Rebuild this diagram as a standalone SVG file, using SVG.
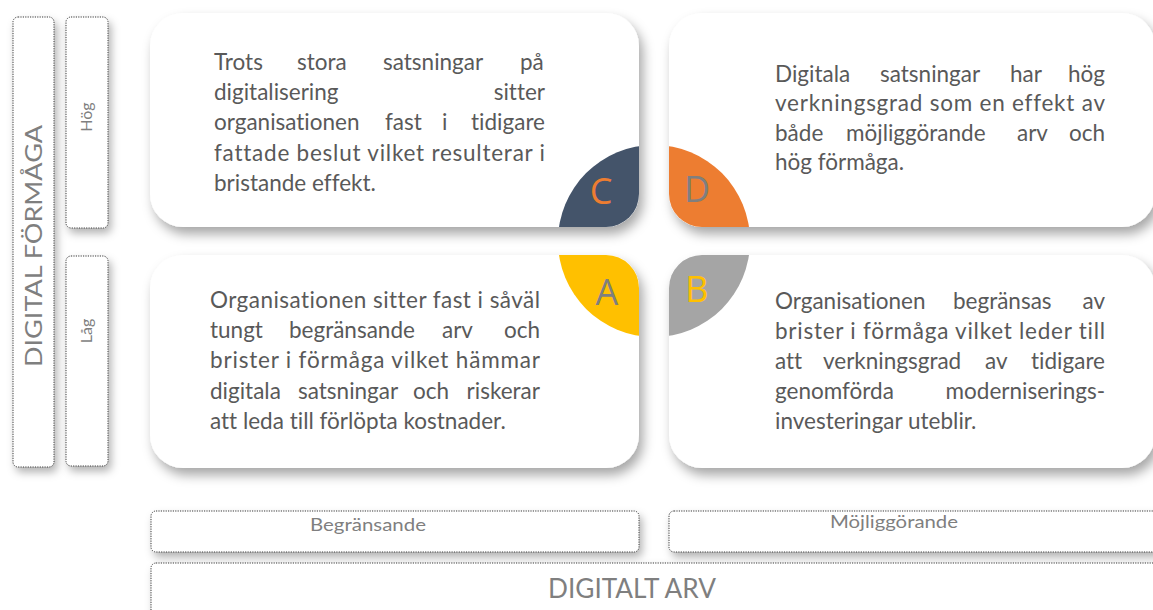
<svg xmlns="http://www.w3.org/2000/svg" width="1153" height="610" viewBox="0 0 1153 610">
<style>
.card{fill:#fff;filter:url(#sh)}
.box{fill:#fff;stroke:#3a3a3a;stroke-width:1;stroke-dasharray:1.2 1.2;filter:url(#sh2)}
.t{font-family:Lato,"Open Sans",sans-serif;font-size:22.5px;fill:#595959;font-variant-ligatures:none}
.lab{font-family:Lato,"Open Sans",sans-serif;fill:#7f7f7f}
.L{font-family:"Open Sans",Lato,sans-serif;font-size:36px}
</style>
<defs>
<filter id="sh" x="-10%" y="-10%" width="125%" height="130%">
<feDropShadow dx="4" dy="7" stdDeviation="6" flood-color="#000" flood-opacity="0.35"/>
</filter>
<filter id="sh2" x="-20%" y="-20%" width="150%" height="150%">
<feDropShadow dx="3" dy="5" stdDeviation="4" flood-color="#000" flood-opacity="0.3"/>
</filter>
<clipPath id="cC"><rect x="150" y="13" width="489" height="214" rx="33"/></clipPath>
<clipPath id="cD"><rect x="669" y="13" width="486" height="214" rx="33"/></clipPath>
<clipPath id="cA"><rect x="150" y="255" width="489" height="213" rx="33"/></clipPath>
<clipPath id="cB"><rect x="669" y="255" width="486" height="213" rx="33"/></clipPath>
</defs>

<g id="axis-formaga">
<rect class="box" x="13" y="17" width="41" height="450" rx="5"/>
<text class="lab" font-size="24" transform="translate(42,246) rotate(-90)" text-anchor="middle" textLength="242" lengthAdjust="spacingAndGlyphs">DIGITAL FÖRMÅGA</text>
</g>
<g id="hog">
<rect class="box" x="66" y="17" width="42" height="211" rx="5"/>
<text class="lab" font-size="16" transform="translate(92,117) rotate(-90)" text-anchor="middle">Hög</text>
</g>
<g id="lag">
<rect class="box" x="66" y="256" width="42" height="210" rx="5"/>
<text class="lab" font-size="16" transform="translate(92,331) rotate(-90)" text-anchor="middle">Låg</text>
</g>

<g id="card-C">
<rect class="card" x="150" y="13" width="489" height="214" rx="33"/>
<circle cx="654" cy="241" r="96" fill="#44546A" clip-path="url(#cC)"/>
<text class="L" x="601" y="204" fill="#ED7D31" text-anchor="middle">C</text>
<g class="t">
<text x="214" y="70">Trots</text><text x="297" y="70">stora</text><text x="383" y="70">satsningar</text><text x="520" y="70">på</text>
<text x="214" y="100">digitalisering</text><text x="545" y="100" text-anchor="end">sitter</text>
<text x="214" y="130">organisationen</text><text x="385" y="130">fast</text><text x="442" y="130">i</text><text x="545" y="130" text-anchor="end">tidigare</text>
<text x="214" y="161" textLength="331" lengthAdjust="spacing">fattade beslut vilket resulterar i</text>
<text x="214" y="191">bristande effekt.</text>
</g>
</g>

<g id="card-D">
<rect class="card" x="669" y="13" width="486" height="214" rx="33"/>
<circle cx="654" cy="241" r="96" fill="#ED7D31" clip-path="url(#cD)"/>
<text class="L" x="697" y="202" fill="#7f7f7f" text-anchor="middle">D</text>
<g class="t">
<text x="775" y="82">Digitala</text><text x="880" y="82">satsningar</text><text x="1010" y="82">har</text><text x="1105" y="82" text-anchor="end">hög</text>
<text x="775" y="111" textLength="330" lengthAdjust="spacing">verkningsgrad som en effekt av</text>
<text x="775" y="141">både</text><text x="846" y="141">möjliggörande</text><text x="1017" y="141">arv</text><text x="1105" y="141" text-anchor="end">och</text>
<text x="775" y="170">hög förmåga.</text>
</g>
</g>

<g id="card-A">
<rect class="card" x="150" y="255" width="489" height="213" rx="33"/>
<circle cx="654" cy="241" r="96" fill="#FFC000" clip-path="url(#cA)"/>
<text class="L" x="607" y="305" fill="#7f7f7f" text-anchor="middle">A</text>
<g class="t">
<text x="210" y="308" textLength="330" lengthAdjust="spacing">Organisationen sitter fast i såväl</text>
<text x="210" y="338">tungt</text><text x="289" y="338">begränsande</text><text x="442" y="338">arv</text><text x="540" y="338" text-anchor="end">och</text>
<text x="210" y="368" textLength="330" lengthAdjust="spacing">brister i förmåga vilket hämmar</text>
<text x="210" y="399">digitala</text><text x="298" y="399">satsningar</text><text x="413" y="399">och</text><text x="540" y="399" text-anchor="end">riskerar</text>
<text x="210" y="429">att leda till förlöpta kostnader.</text>
</g>
</g>

<g id="card-B">
<rect class="card" x="669" y="255" width="486" height="213" rx="33"/>
<circle cx="654" cy="241" r="96" fill="#A5A5A5" clip-path="url(#cB)"/>
<text class="L" x="697" y="302" fill="#FFC000" text-anchor="middle">B</text>
<g class="t">
<text x="775" y="309">Organisationen</text><text x="953" y="309">begränsas</text><text x="1105" y="309" text-anchor="end">av</text>
<text x="775" y="339" textLength="330" lengthAdjust="spacing">brister i förmåga vilket leder till</text>
<text x="775" y="369">att</text><text x="823" y="369">verkningsgrad</text><text x="985" y="369">av</text><text x="1105" y="369" text-anchor="end">tidigare</text>
<text x="775" y="399">genomförda</text><text x="1105" y="399" text-anchor="end">moderniserings-</text>
<text x="775" y="429">investeringar uteblir.</text>
</g>
</g>

<g id="begransande">
<rect class="box" x="151" y="511" width="488" height="41" rx="5"/>
<text class="lab" font-size="18" x="310" y="531" textLength="116" lengthAdjust="spacingAndGlyphs">Begränsande</text>
</g>
<g id="mojliggorande">
<rect class="box" x="669" y="511" width="490" height="41" rx="5"/>
<text class="lab" font-size="18" x="830" y="528" textLength="128" lengthAdjust="spacingAndGlyphs">Möjliggörande</text>
</g>
<g id="digitalt-arv">
<rect class="box" x="151" y="563" width="1010" height="60" rx="5"/>
<text class="lab" font-size="26" x="548" y="598" textLength="168" lengthAdjust="spacingAndGlyphs">DIGITALT ARV</text>
</g>

<g id="connectors"></g>
</svg>
